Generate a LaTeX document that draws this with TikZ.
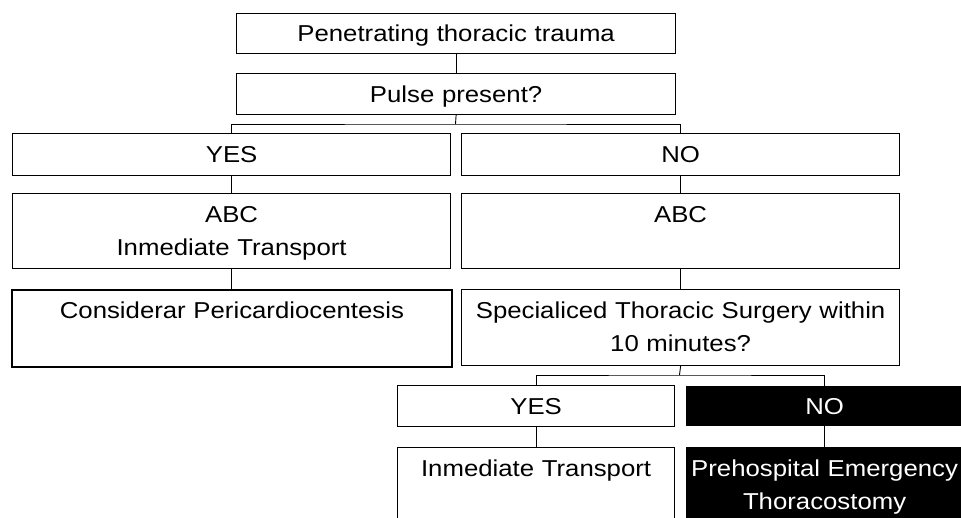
\documentclass[tikz,border=0pt]{standalone}
\usepackage{fontspec}
\setmainfont{Liberation Sans}[FakeStretch=1.12]
\usepackage{tikz}

\tikzset{
    box/.style={draw, line width=1.2pt, inner sep=0pt, align=center, anchor=north west, text height=16.5pt, text depth=0pt},
    tallbox/.style={box, text height=28.5pt, text depth=#1},
    darkbox/.style={fill=black, text=white},
    link/.style={line width=0.9pt}
}

\begin{document}
\begin{tikzpicture}[x=1pt, y=-1pt, font=\fontsize{23}{33}\selectfont]
        \clip (0, 0) rectangle (961, 518);
        \node[box, text width=439pt, minimum height=40pt] (trauma) at (236, 13) {Penetrating thoracic trauma};
        \node[box, text width=439pt, minimum height=41pt] (pulse) at (236, 73) {Pulse present?};
        \node[box, text width=438pt, minimum height=42pt] (yesA) at (12, 133) {YES};
        \node[box, text width=438pt, minimum height=42pt] (noA) at (461, 133) {NO};
        \node[tallbox=46.5pt, text width=438pt] (abcA) at (12, 193) {ABC\\Inmediate Transport};
        \node[tallbox=46.5pt, text width=438pt] (abcB) at (461, 193) {ABC};
        \node[tallbox=48.5pt, text width=440pt, line width=1.8pt] (pericard) at (11, 289) {Considerar Pericardiocentesis};
        \node[tallbox=47.5pt, text width=438pt] (surgery) at (461, 289) {Specialiced Thoracic Surgery within\\10 minutes?};
        \node[box, text width=277pt, minimum height=41pt] (yesB) at (397, 385) {YES};
        \node[box, darkbox, text width=276pt, minimum height=39pt] (noB) at (686, 386) {NO};
        \node[tallbox=100pt, text width=277pt] (transport) at (397, 447) {Inmediate Transport};
        \node[tallbox=100pt, darkbox, text width=276pt] (thoraco) at (686, 447) {Prehospital Emergency\\Thoracostomy};
        \coordinate (forkA) at (455.5, 124);
        \coordinate (forkB) at (679.5, 375);
        \draw[link] (trauma) -- (pulse);
        \draw[link] (pulse.south) -- (forkA);
        \draw[link] (yesA.north) |- (forkA) -| (noA.north);
        \draw[link] (yesA) -- (abcA);
        \draw[link] (noA) -- (abcB);
        \draw[link] (abcA.south) -- (pericard.north -| abcA.south);
        \draw[link] (abcB) -- (surgery);
        \draw[link] (surgery.south) -- (forkB);
        \draw[link] (yesB.north) |- (forkB) -| (noB.north);
        \draw[link] (yesB) -- (transport);
        \draw[link] (noB) -- (thoraco);
    \end{tikzpicture}
\end{document}
